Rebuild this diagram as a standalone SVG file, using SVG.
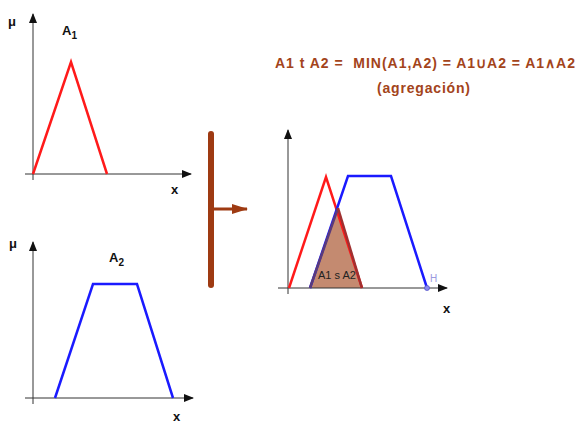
<svg xmlns="http://www.w3.org/2000/svg" width="581" height="423" viewBox="0 0 581 423">
<defs>
<marker id="ax" markerWidth="10" markerHeight="8" refX="9" refY="4" orient="auto" markerUnits="userSpaceOnUse">
<path d="M0,0 L10,4 L0,8 z" fill="#111"/>
</marker>
<marker id="br" markerWidth="16" markerHeight="10" refX="15" refY="5" orient="auto" markerUnits="userSpaceOnUse">
<path d="M0,0 L16,5 L0,10 z" fill="#9e3a12"/>
</marker>
<style>
.axis{stroke:#333;stroke-width:1;fill:none}
.red{stroke:#ff1a1a;stroke-width:2.5;fill:none;stroke-linejoin:miter}
.blue{stroke:#1a1aff;stroke-width:2.5;fill:none}
.lbl{font-family:"Liberation Sans",Arial,sans-serif;font-weight:bold;fill:#111}
.title{font-family:"Liberation Sans",Arial,sans-serif;font-weight:bold;fill:#a3441b;font-size:14px}
</style>
</defs>
<rect width="581" height="423" fill="#fff"/>
<g id="panel1">
<line class="axis" x1="33" y1="180" x2="33" y2="14" marker-end="url(#ax)"/>
<line class="axis" x1="25" y1="174" x2="191" y2="174" marker-end="url(#ax)"/>
<polyline class="red" points="33,174 71,62 107,174"/>
<text class="lbl" x="8" y="26" font-size="13">μ</text>
<text class="lbl" x="62" y="35" font-size="13">A<tspan font-size="10" dy="4">1</tspan></text>
<text class="lbl" x="171" y="194" font-size="13">x</text>
</g>
<g id="panel2">
<line class="axis" x1="33" y1="404" x2="33" y2="242" marker-end="url(#ax)"/>
<line class="axis" x1="25" y1="398" x2="193" y2="398" marker-end="url(#ax)"/>
<polyline class="blue" points="55,398 93,284 137,284 173,398"/>
<text class="lbl" x="9" y="248" font-size="13">μ</text>
<text class="lbl" x="109" y="262" font-size="13">A<tspan font-size="10" dy="4">2</tspan></text>
<text class="lbl" x="173" y="421" font-size="13">x</text>
</g>
<g id="connectors">
<line x1="211" y1="134" x2="211" y2="285" stroke="#9e3a12" stroke-width="6" stroke-linecap="round"/>
<line x1="211" y1="209" x2="247" y2="209" stroke="#9e3a12" stroke-width="3" marker-end="url(#br)"/>
</g>
<g id="title">
<text class="title" x="275" y="68" textLength="300" lengthAdjust="spacing" xml:space="preserve">A1 t A2 =  MIN(A1,A2) = A1∪A2 = A1∧A2</text>
<text class="title" x="377" y="93" textLength="93" lengthAdjust="spacing">(agregación)</text>
</g>
<g id="panel3">
<polygon points="310,288 338,208 362,288" fill="#c48a70" stroke="none"/>
<line class="axis" x1="288" y1="294" x2="288" y2="130" marker-end="url(#ax)"/>
<line class="axis" x1="278" y1="288" x2="447" y2="288" marker-end="url(#ax)"/>
<polyline class="red" points="289,288 326,177 362,288"/>
<polyline class="blue" points="310,288 348,176 391,176 427,288"/>
<line x1="310" y1="288" x2="338" y2="208" stroke="#5a3a7a" stroke-width="2.5"/>
<line x1="338" y1="208" x2="362" y2="288" stroke="#a03030" stroke-width="2.5"/>
<circle cx="427" cy="288" r="2.5" fill="#8a8aee" stroke="#5555cc" stroke-width="0.8"/>
<text x="430" y="282" font-family="Liberation Sans, Arial, sans-serif" font-size="10" fill="#9a9ae0">H</text>
<text x="318" y="279" font-family="Liberation Sans, Arial, sans-serif" font-size="11" fill="#222">A1 s A2</text>
<text class="lbl" x="443" y="313" font-size="13">x</text>
</g>
</svg>
